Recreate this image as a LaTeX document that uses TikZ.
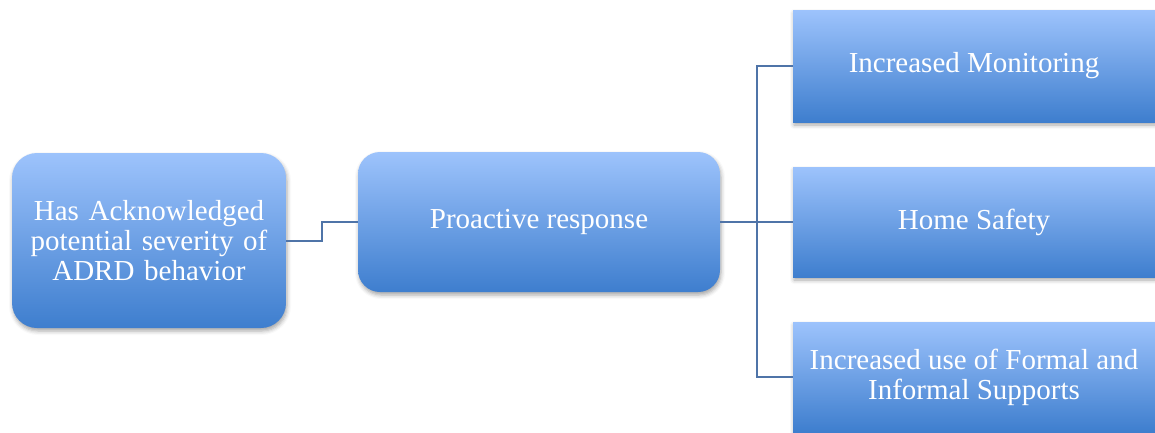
\documentclass[tikz,border=0pt]{standalone}
\usepackage{fontspec}
\setmainfont{Liberation Serif}
\usetikzlibrary{shadows.blur}
\definecolor{boxtop}{RGB}{157,195,252}
\definecolor{boxbot}{RGB}{62,126,206}
\definecolor{wire}{RGB}{79,116,168}
\begin{document}
\begin{tikzpicture}[x=1pt,y=-1pt,
  box/.style={top color=boxtop, bottom color=boxbot, draw=none, text=white,
    font=\fontsize{29}{30}\selectfont, align=center, inner sep=0pt,
    blur shadow={shadow xshift=1pt, shadow yshift=-3pt, shadow blur radius=4pt, shadow opacity=35}},
  wire/.style={draw=wire, line width=2pt}]
\useasboundingbox (0,0) rectangle (1155,432);
\clip (0,0) rectangle (1155,432);
% source and middle boxes
\node[box, rounded corners=25pt, minimum width=274pt, minimum height=175pt, text width=262pt]
  (src) at (149,240.5) {Has Acknowledged\\potential severity of\\ADRD behavior};
\node[box, rounded corners=22pt, minimum width=362pt, minimum height=140pt]
  (mid) at (539,222) {Proactive response};
% response boxes
\node[box, minimum width=362pt, minimum height=112pt] (r1) at (974,66) {Increased Monitoring};
\node[box, minimum width=362pt, minimum height=110pt] (r2) at (974,222) {Home Safety};
\node[box, minimum width=362pt, minimum height=110pt] (r3) at (974,377) {Increased use of Formal and\\Informal Supports};
% connectors
\draw[wire] (src.east) -- ++(36,0) |- (mid.west);
\draw[wire] (mid.east) -- ++(37,0) coordinate (j);
\draw[wire] (j) |- (r1.west);
\draw[wire] (j) -- (r2.west);
\draw[wire] (j) |- (r3.west);
\end{tikzpicture}
\end{document}
